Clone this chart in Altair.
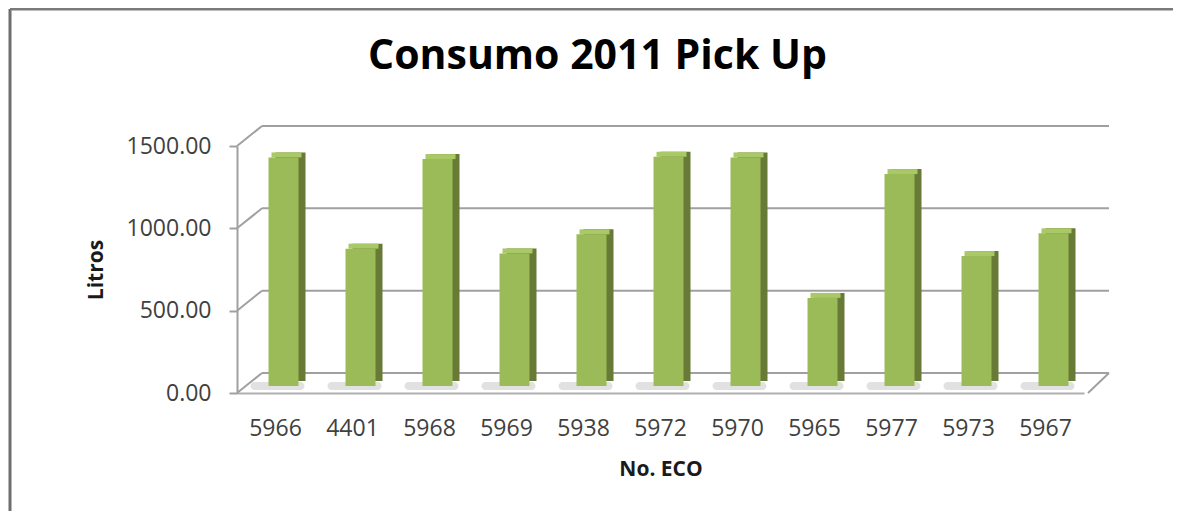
import altair as alt
import pandas as pd

categories = ["5966", "4401", "5968", "5969", "5938", "5972", "5970", "5965", "5977", "5973", "5967"]
litros = [1388, 834, 1378, 805, 921, 1392, 1388, 535, 1287, 789, 927]
y_ticks = [0, 500, 1000, 1500]

df = pd.DataFrame({"eco": categories, "litros": litros})
grid_df = pd.DataFrame({"v": y_ticks})
one_df = grid_df[grid_df.v == 0]

W, H = 847, 247
DX, DY = 25, -20  # depth of back wall
BY = -7           # bars stand at mid depth
FONT = "Open Sans"

x_enc = alt.X("eco:N", sort=None, title="No. ECO",
              scale=alt.Scale(paddingInner=0.6, paddingOuter=0.3),
              axis=alt.Axis(labelAngle=0, labelFontSize=23, labelFont=FONT, labelColor="#404040",
                            labelPadding=24, ticks=False, domainColor="#b0b0b0", domainWidth=2,
                            titleFontSize=21, titleFont=FONT, titleFontWeight="bold", titleColor="#1a1a1a",
                            titleY=76, titleBaseline="middle"))
y_scale = alt.Scale(domain=[0, 1500], nice=False)

# back wall gridlines
back = alt.Chart(grid_df).mark_rule(color="#a0a0a0", strokeWidth=2, yOffset=DY).encode(
    y=alt.Y("v:Q", scale=y_scale,
            axis=alt.Axis(values=y_ticks, format=".2f", labelFontSize=23, labelFont=FONT,
                          labelColor="#404040", tickSize=8, tickColor="#a0a0a0", tickWidth=2,
                          labelPadding=18, domainColor="#a0a0a0", domainWidth=2, grid=False,
                          title="Litros", titleFontSize=21, titleFont=FONT, titleFontWeight="bold",
                          titleColor="#1a1a1a", titleX=-141, titleY=H / 2, titleAngle=-90,
                          titleAlign="center", titleBaseline="middle")),
    x=alt.value(DX), x2=alt.value(W + DX),
)
diag = alt.Chart(grid_df).mark_rule(color="#a0a0a0", strokeWidth=2, y2Offset=DY).encode(
    y=alt.Y("v:Q", scale=y_scale), y2="v:Q",
    x=alt.value(0), x2=alt.value(DX),
)
floor_right = alt.Chart(one_df).mark_rule(color="#a0a0a0", strokeWidth=2, y2Offset=DY).encode(
    y=alt.Y("v:Q", scale=y_scale), y2="v:Q",
    x=alt.value(W + 4), x2=alt.value(W + DX),
)

shadow = alt.Chart(df).mark_bar(color="#c8c8c8", opacity=0.55, size=54, xOffset=2, yOffset=-3, y2Offset=-11,
                                cornerRadius=8).encode(
    x=x_enc, y=alt.datum(0, scale=y_scale), y2=alt.datum(0),
)
side = alt.Chart(df).mark_bar(color="#677b37", size=30, xOffset=15, yOffset=BY - 5, y2Offset=BY - 5).encode(
    x=x_enc, y=alt.Y("litros:Q", scale=y_scale), y2=alt.datum(0),
)
top = alt.Chart(df).mark_bar(color="#a9c866", size=30, xOffset=11, yOffset=BY - 5, y2Offset=BY).encode(
    x=x_enc, y=alt.Y("litros:Q", scale=y_scale), y2="litros:Q",
)
front = alt.Chart(df).mark_bar(color="#9bbb59", size=30, xOffset=8, yOffset=BY, y2Offset=BY).encode(
    x=x_enc, y=alt.Y("litros:Q", scale=y_scale), y2=alt.datum(0),
    tooltip=["eco", "litros"],
)

border = alt.Chart(one_df).mark_rule(color="#6e6e6e", strokeWidth=3).encode(
    x=alt.value(-227), x2=alt.value(-227), y=alt.value(-137), y2=alt.value(H + 130),
)
border_top = alt.Chart(one_df).mark_rule(color="#7a7a7a", strokeWidth=3).encode(
    x=alt.value(-227), x2=alt.value(W + 100), y=alt.value(-137), y2=alt.value(-137),
)

chart = alt.layer(back, diag, floor_right, shadow, side, top, front, border, border_top).properties(
    width=W, height=H,
    padding={"left": 229, "top": 138, "right": 89, "bottom": 118},
    autosize=alt.AutoSizeParams(type="none"),
    title=alt.Title("Consumo 2011 Pick Up", fontSize=41, font=FONT, fontWeight="bold", color="#000000",
                    anchor="middle", dx=-63, offset=-70),
).configure(background="white").configure_view(stroke=None)

chart.save("out.html", embed_options={"renderer": "svg", "actions": False})
